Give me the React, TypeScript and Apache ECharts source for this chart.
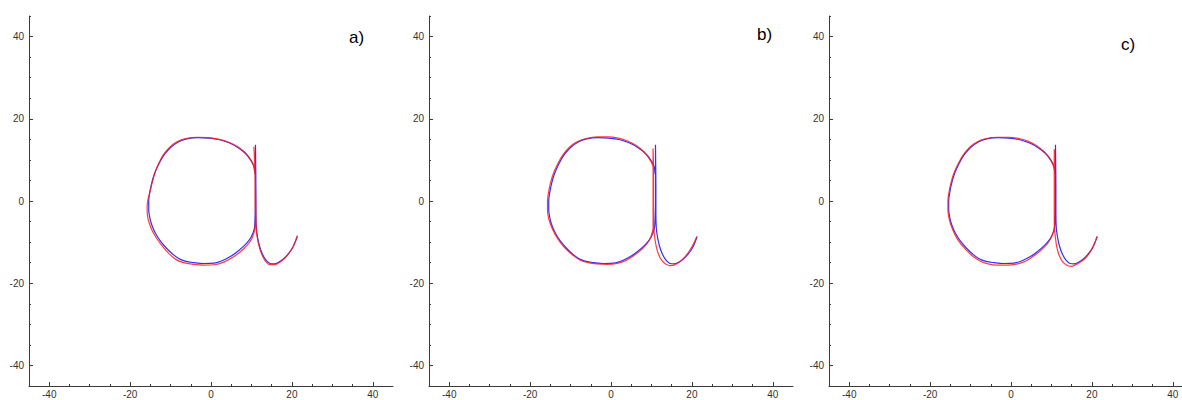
import React, { useEffect, useRef } from "react";
import * as echarts from "echarts";

// Axis ticks shared by every panel
const AXIS_MIN = -45;
const AXIS_MAX = 45;
const TICK_LABELS = [-40, -20, 0, 20, 40];
const MINOR_TICKS_X = [-35, -30, -25, -15, -10, -5, 5, 10, 15, 25, 30, 35];
const MINOR_TICKS_Y = [-45, -35, -30, -25, -15, -10, -5, 5, 10, 15, 25, 30, 35, 45];

// Panel labels
const PANEL_LABELS = ["a)", "b)", "c)"];

// Reference pen trajectory of the letter (blue)
const BLUE_TRACE: [number, number][] = [
  [10.9, 6.5], [10.7, 8.2], [10.0, 9.7], [8.6, 11.5], [6.8, 12.9], [4.6, 14.1],
  [2.2, 14.9], [-0.5, 15.3], [-3.2, 15.4], [-6.0, 15.1], [-8.2, 14.3], [-10.0, 13.0],
  [-11.6, 11.2], [-12.9, 9.0], [-13.9, 6.8], [-14.6, 4.6], [-15.1, 2.3], [-15.4, 0.0],
  [-15.4, -2.1], [-15.1, -4.2], [-14.5, -6.2], [-13.6, -8.1], [-12.4, -9.9], [-11.0, -11.5],
  [-9.5, -12.9], [-8.0, -14.0], [-6.2, -14.7], [-4.2, -15.0], [-1.8, -15.2], [0.8, -15.1],
  [3.0, -14.4], [5.0, -13.4], [6.8, -12.1], [8.6, -10.5], [9.9, -8.8], [10.7, -6.8],
  [10.9, -4.0], [11.0, 0.0], [11.0, 5.0], [11.0, 10.0], [11.0, 13.7], [11.05, 9.0],
  [11.1, 3.0], [11.1, -3.0], [11.2, -6.5], [11.5, -8.8], [12.0, -11.0], [12.7, -12.9],
  [13.6, -14.4], [14.6, -15.2], [15.6, -15.3], [16.7, -14.9], [17.9, -14.1], [19.0, -13.0],
  [20.1, -11.5], [20.8, -10.0], [21.3, -8.6],
];

// Reproduced trajectories (red), one per panel
const RED_TRACE_A: [number, number][] = [
  [10.8, 7.0], [10.5, 8.6], [9.8, 10.0], [8.4, 11.8], [6.6, 13.2], [4.4, 14.3],
  [2.0, 15.0], [-0.7, 15.4], [-3.4, 15.5], [-6.2, 15.2], [-8.4, 14.4], [-10.2, 13.1],
  [-11.8, 11.2], [-13.0, 9.0], [-13.9, 6.8], [-14.5, 4.6], [-15.1, 2.2], [-15.6, 0.3],
  [-15.8, -1.6], [-15.7, -3.6], [-15.2, -5.6], [-14.4, -7.5], [-13.3, -9.3], [-12.0, -11.0],
  [-10.4, -12.8], [-8.7, -14.2], [-6.8, -15.0], [-4.4, -15.4], [-1.8, -15.6], [0.9, -15.5],
  [3.3, -14.8], [5.4, -13.7], [7.2, -12.4], [8.9, -10.8], [10.1, -9.1], [10.8, -7.0],
  [11.0, -4.0], [10.9, 0.0], [10.9, 5.0], [10.8, 10.0], [10.6, 13.2], [10.8, 9.0],
  [11.0, 3.0], [11.1, -3.0], [11.2, -6.8], [11.5, -9.2], [12.0, -11.4], [12.7, -13.3],
  [13.6, -14.8], [14.6, -15.5], [15.7, -15.5], [16.8, -15.0], [18.0, -14.1], [19.1, -12.9],
  [20.2, -11.3], [20.9, -9.8], [21.4, -8.4],
];

const RED_TRACE_B: [number, number][] = [
  [10.5, 7.5], [10.2, 8.9], [9.4, 10.4], [8.0, 12.1], [6.2, 13.5], [4.1, 14.6],
  [1.8, 15.3], [-0.8, 15.6], [-3.4, 15.6], [-6.2, 15.2], [-8.4, 14.4], [-10.3, 13.1],
  [-11.9, 11.2], [-13.2, 9.0], [-14.2, 6.8], [-14.9, 4.6], [-15.4, 2.3], [-15.7, 0.0],
  [-15.7, -2.2], [-15.4, -4.3], [-14.7, -6.3], [-13.7, -8.3], [-12.5, -10.1], [-11.0, -11.8],
  [-9.4, -13.2], [-7.6, -14.4], [-5.7, -15.0], [-3.5, -15.3], [-1.0, -15.4], [1.5, -15.2],
  [3.6, -14.5], [5.5, -13.4], [7.3, -12.0], [8.9, -10.4], [9.9, -8.6], [10.4, -6.5],
  [10.4, -3.0], [10.4, 2.0], [10.4, 7.0], [10.4, 12.8], [10.5, 8.0], [10.5, 2.0],
  [10.5, -3.0], [10.6, -7.0], [10.9, -9.5], [11.3, -11.5], [11.8, -13.1], [12.6, -14.5],
  [13.5, -15.3], [14.6, -15.7], [15.6, -15.6], [16.6, -15.1], [17.7, -14.2], [18.7, -13.1],
  [19.6, -11.8], [20.5, -10.2], [21.2, -8.7],
];

const RED_TRACE_C: [number, number][] = [
  [10.7, 7.2], [10.4, 8.8], [9.6, 10.3], [8.2, 12.0], [6.4, 13.4], [4.3, 14.5],
  [2.0, 15.2], [-0.6, 15.5], [-3.3, 15.5], [-6.1, 15.2], [-8.3, 14.4], [-10.2, 13.1],
  [-11.8, 11.2], [-13.1, 9.0], [-14.1, 6.8], [-14.8, 4.6], [-15.3, 2.3], [-15.6, 0.0],
  [-15.6, -2.2], [-15.3, -4.3], [-14.7, -6.3], [-13.8, -8.3], [-12.6, -10.2], [-11.1, -11.9],
  [-9.5, -13.4], [-7.7, -14.6], [-5.7, -15.3], [-3.4, -15.6], [-0.9, -15.6], [1.6, -15.3],
  [3.7, -14.6], [5.6, -13.4], [7.4, -12.0], [9.0, -10.4], [10.1, -8.6], [10.7, -6.5],
  [10.7, -3.0], [10.7, 2.0], [10.7, 7.0], [10.7, 12.6], [10.8, 8.0], [10.8, 2.0],
  [10.8, -3.0], [10.8, -7.0], [11.0, -9.0], [11.3, -11.1], [11.8, -12.9], [12.5, -14.4],
  [13.3, -15.3], [14.2, -15.8], [15.0, -15.9], [15.8, -15.6], [16.9, -15.0], [18.3, -14.0],
  [19.3, -12.8], [20.3, -11.1], [21.3, -8.7],
];

const RED_TRACES = [RED_TRACE_A, RED_TRACE_B, RED_TRACE_C];

const AXIS_COLOR = "#3a3a3a";
const LABEL_COLOR = "#333";
const FONT = "Liberation Sans";

const PANEL_LEFT = [29, 429, 829];
const PANEL_TOP = 16;
const PANEL_W = 364;
const PANEL_H = 370;
const LABEL_POS = [
  { left: 349, top: 29 },
  { left: 757, top: 26 },
  { left: 1121, top: 36 },
];

function majorAxis(kind: "x" | "y", gridIndex: number) {
  return {
    type: "value",
    gridIndex,
    position: kind === "x" ? "bottom" : "left",
    min: AXIS_MIN,
    max: AXIS_MAX,
    axisLine: { show: true, onZero: false, lineStyle: { color: AXIS_COLOR, width: 1 } },
    axisTick: {
      show: true,
      inside: true,
      length: 4,
      customValues: TICK_LABELS,
      lineStyle: { color: AXIS_COLOR, width: 1 },
    },
    axisLabel: {
      show: true,
      customValues: TICK_LABELS,
      margin: kind === "x" ? 3 : 5,
      color: LABEL_COLOR,
      fontSize: 10,
      fontFamily: FONT,
    },
    splitLine: { show: false },
  };
}

function minorAxis(kind: "x" | "y", gridIndex: number) {
  return {
    type: "value",
    gridIndex,
    position: kind === "x" ? "bottom" : "left",
    min: AXIS_MIN,
    max: AXIS_MAX,
    axisLine: { show: false, onZero: false },
    axisTick: {
      show: true,
      inside: true,
      length: 2,
      customValues: kind === "x" ? MINOR_TICKS_X : MINOR_TICKS_Y,
      lineStyle: { color: AXIS_COLOR, width: 1 },
    },
    axisLabel: { show: false },
    splitLine: { show: false },
  };
}

export default function App() {
  const ref = useRef<HTMLDivElement>(null);

  useEffect(() => {
    if (!ref.current) return;
    const chart = echarts.init(ref.current, null, { renderer: "svg" });

    // Fixed-size plot boxes; the last one runs past the right edge of the canvas
    const grid = PANEL_LEFT.map((left) => ({
      left,
      top: PANEL_TOP,
      width: PANEL_W,
      height: PANEL_H,
      containLabel: false,
      outerBoundsMode: "none",
    }));

    const xAxis: any[] = [];
    const yAxis: any[] = [];
    PANEL_LEFT.forEach((_, i) => {
      xAxis.push(majorAxis("x", i), minorAxis("x", i));
      yAxis.push(majorAxis("y", i), minorAxis("y", i));
    });

    const series: any[] = [];
    PANEL_LEFT.forEach((_, i) => {
      series.push({
        type: "line",
        xAxisIndex: 2 * i,
        yAxisIndex: 2 * i,
        data: BLUE_TRACE,
        showSymbol: false,
        smooth: 0.35,
        lineStyle: { color: "#1a1aff", width: 1.2, opacity: 0.9 },
        silent: true,
      });
      series.push({
        type: "line",
        xAxisIndex: 2 * i,
        yAxisIndex: 2 * i,
        data: RED_TRACES[i],
        showSymbol: false,
        smooth: 0.35,
        lineStyle: { color: "#ff1a1a", width: 1.2, opacity: 0.85 },
        silent: true,
      });
    });

    const title = PANEL_LABELS.map((text, i) => ({
      text,
      left: LABEL_POS[i].left,
      top: LABEL_POS[i].top,
      padding: 0,
      textStyle: { fontSize: 17, fontWeight: "normal", color: "#000", fontFamily: FONT },
    }));

    chart.setOption({
      animation: false,
      backgroundColor: "#fff",
      title,
      grid,
      xAxis,
      yAxis,
      series,
    });

    return () => chart.dispose();
  }, []);

  return (
    <div
      ref={ref}
      style={{ position: "fixed", left: 0, top: 0, width: 1182, height: 400 }}
    />
  );
}
